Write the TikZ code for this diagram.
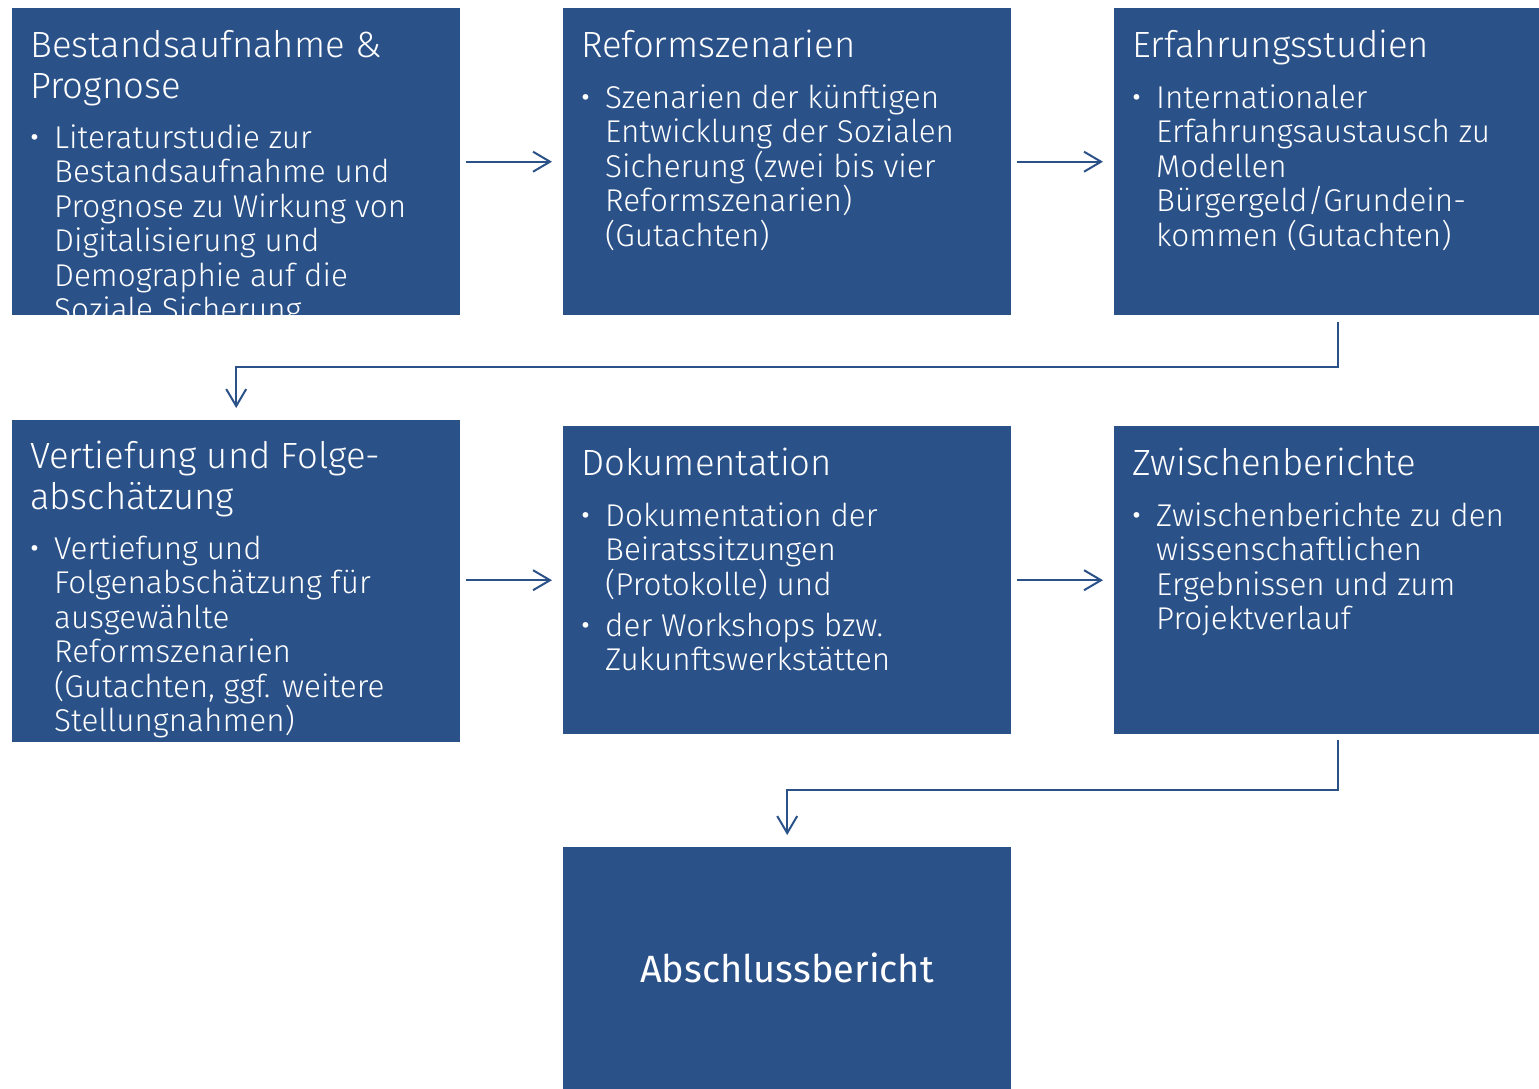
\documentclass[tikz,border=0pt]{standalone}
\usepackage{fontspec}
\setmainfont{Fira Sans Light}
\newfontfamily\regfont{Fira Sans}
\usetikzlibrary{arrows.meta}
\definecolor{boxblue}{HTML}{2B5189}
\newcommand{\lns}[1]{\parbox[t]{460pt}{\raggedright #1}}
\tikzset{
  box/.style={fill=boxblue, draw=none, anchor=north west, minimum width=448pt, inner sep=0pt},
  ttl/.style={anchor=base west, inner sep=0pt, text=white, font=\fontsize{36.5}{41}\selectfont},
  bodytxt/.style={anchor=base west, inner sep=0pt, text=white, font=\fontsize{31.5}{34.5}\selectfont},
  bul/.style={anchor=base west, inner sep=0pt, text=white, font=\fontsize{38}{34.5}\selectfont},
  conn/.style={draw=boxblue, line width=2pt, -{Straight Barb[length=17pt,width=20pt]}},
}
\begin{document}
\begin{tikzpicture}[x=1pt,y=-1pt]
\useasboundingbox (0,0) rectangle (1539,1088);
\clip (0,0) rectangle (1539,1088);
% boxes
\node[box, minimum height=307pt] (b1) at (12,8) {};
\node[box, minimum height=307pt] (b2) at (563,8) {};
\node[box, minimum height=307pt] (b3) at (1114,8) {};
\node[box, minimum height=322pt] (b4) at (12,420) {};
\node[box, minimum height=308pt] (b5) at (563,426) {};
\node[box, minimum height=308pt] (b6) at (1114,426) {};
\node[box, minimum height=307pt] (b7) at (563,847) {};
% box 1 text (clipped)
\begin{scope}
\clip (12,8) rectangle (460,315);
\node[ttl] (t1) at (30,57) {\lns{Bestandsaufnahme \&\\Prognose}};
\node[bul] (u1) at (29,150) {•};
\node[bodytxt] (x1) at (54,148) {\lns{Literaturstudie zur\\Bestandsaufnahme und\\Prognose zu Wirkung von\\Digitalisierung und\\Demographie auf die\\Soziale Sicherung}};
\end{scope}
% box 2
\node[ttl] (t2) at (581,57) {Reformszenarien};
\node[bul] (u2) at (580,110) {•};
\node[bodytxt] (x2) at (605,108) {\lns{Szenarien der künftigen\\Entwicklung der Sozialen\\Sicherung (zwei bis vier\\Reformszenarien)\\(Gutachten)}};
% box 3
\node[ttl] (t3) at (1132,57) {Erfahrungsstudien};
\node[bul] (u3) at (1131,110) {•};
\node[bodytxt] (x3) at (1156,108) {\lns{Internationaler\\Erfahrungsaustausch zu\\Modellen\\Bürgergeld/Grundein-\\kommen (Gutachten)}};
% box 4
\node[ttl] (t4) at (30,468) {\lns{Vertiefung und Folge-\\abschätzung}};
\node[bul] (u4) at (29,561) {•};
\node[bodytxt] (x4) at (54,559) {\lns{Vertiefung und\\Folgenabschätzung für\\ausgewählte\\Reformszenarien\\(Gutachten, ggf. weitere\\Stellungnahmen)}};
% box 5
\node[ttl] (t5) at (581,475) {Dokumentation};
\node[bul] (u5) at (580,528) {•};
\node[bodytxt] (x5) at (605,526) {\lns{Dokumentation der\\Beiratssitzungen\\(Protokolle) und}};
\node[bul] (u5b) at (580,638) {•};
\node[bodytxt] (x5b) at (605,636) {\lns{der Workshops bzw.\\Zukunftswerkstätten}};
% box 6
\node[ttl] (t6) at (1132,475) {Zwischenberichte};
\node[bul] (u6) at (1131,528) {•};
\node[bodytxt] (x6) at (1156,526) {\lns{Zwischenberichte zu den\\wissenschaftlichen\\Ergebnissen und zum\\Projektverlauf}};
% box 7
\node[text=white, inner sep=0pt, anchor=base, font=\regfont\fontsize{38}{46}\selectfont] (t7) at (787,982) {Abschlussbericht};
% connectors
\draw[conn, shorten <=6pt, shorten >=11pt] (b1.east) -- (b2.west);
\draw[conn, shorten <=6pt, shorten >=11pt] (b2.east) -- (b3.west);
\draw[conn, shorten <=7pt, shorten >=12pt] (b3.south) -- ++(0,52) -| (b4.north);
\draw[conn, shorten <=6pt, shorten >=11pt] (b4.east |- b5.west) -- (b5.west);
\draw[conn, shorten <=6pt, shorten >=11pt] (b5.east) -- (b6.west);
\draw[conn, shorten <=6pt, shorten >=12pt] (b6.south) -- ++(0,56) -| (b7.north);
\end{tikzpicture}
\end{document}
